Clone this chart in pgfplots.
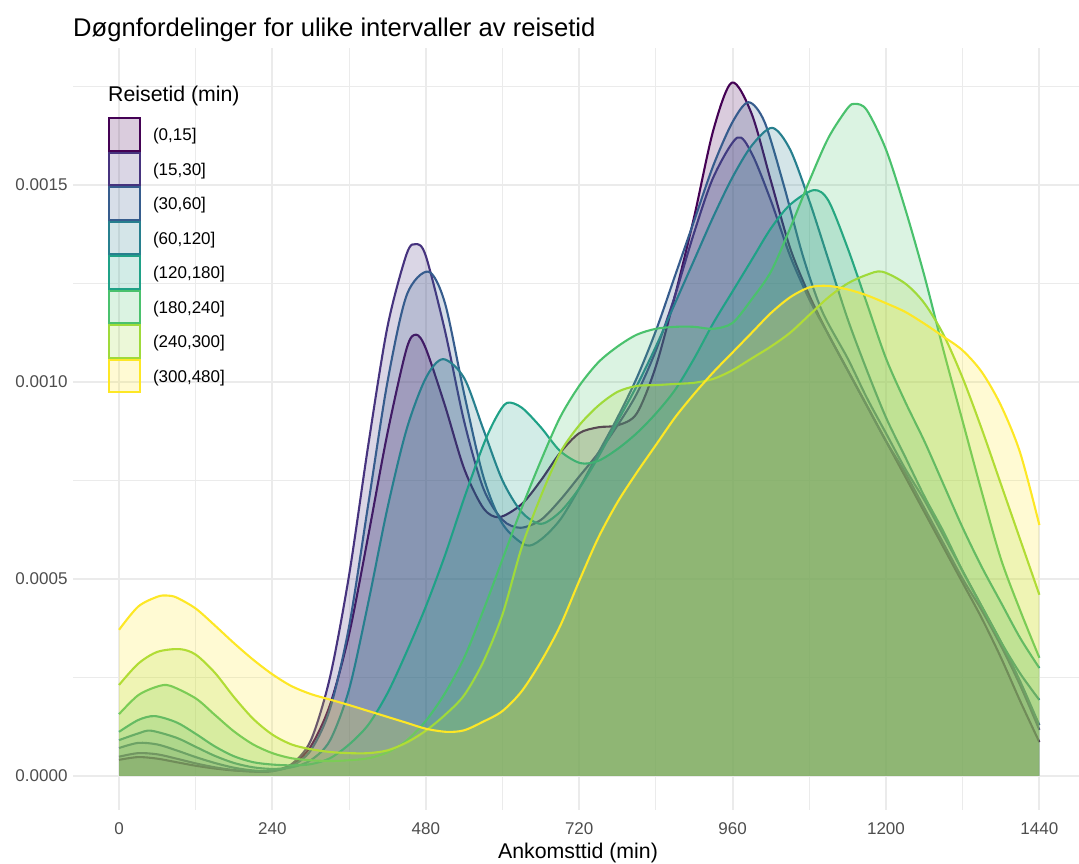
\documentclass[border=0pt]{standalone}
\usepackage{fontspec}
\setmainfont{Liberation Sans}
\usepackage{pgfplots}
\usepackage{pgfplotstable}
\pgfplotsset{compat=1.18}

% viridis, 8 steps
\definecolor{v1}{HTML}{440154}
\definecolor{v2}{HTML}{46337E}
\definecolor{v3}{HTML}{365C8D}
\definecolor{v4}{HTML}{277F8E}
\definecolor{v5}{HTML}{1FA187}
\definecolor{v6}{HTML}{4AC16D}
\definecolor{v7}{HTML}{9FDA3A}
\definecolor{v8}{HTML}{FDE725}
\definecolor{gridgray}{HTML}{EBEBEB}
\definecolor{tickgray}{HTML}{4D4D4D}

% kernel density of arrival time (minutes after midnight), one table per travel-time group
\pgfplotstableread{
t d
0 0.000041
30 0.000048
60 0.000044
90 0.000035
120 0.000026
150 0.000019
180 0.000014
210 0.000012
240 0.000014
270 0.000028
300 0.000075
330 0.000180
360 0.000360
390 0.000610
420 0.000870
450 0.001085
465 0.001120
480 0.001085
510 0.000940
540 0.000780
570 0.000680
595 0.000657
630 0.000690
660 0.000750
690 0.000820
720 0.000870
750 0.000885
780 0.000890
810 0.000920
840 0.001040
870 0.001220
900 0.001420
930 0.001640
959 0.001760
990 0.001680
1020 0.001510
1050 0.001340
1080 0.001220
1110 0.001120
1140 0.001030
1170 0.000940
1200 0.000850
1230 0.000760
1260 0.000670
1290 0.000580
1320 0.000490
1350 0.000400
1380 0.000300
1410 0.000190
1440 0.000086
}\dA

\pgfplotstableread{
t d
0 0.000049
30 0.000058
60 0.000055
90 0.000044
120 0.000032
150 0.000022
180 0.000015
210 0.000011
240 0.000012
270 0.000030
300 0.000090
330 0.000250
360 0.000510
390 0.000840
420 0.001140
450 0.001325
465 0.001350
480 0.001320
510 0.001130
540 0.000900
570 0.000730
600 0.000650
628 0.000630
660 0.000650
690 0.000700
720 0.000760
750 0.000820
780 0.000890
810 0.000970
840 0.001080
870 0.001220
900 0.001380
930 0.001520
967 0.001620
990 0.001580
1020 0.001460
1050 0.001320
1080 0.001210
1110 0.001120
1140 0.001030
1170 0.000940
1200 0.000850
1230 0.000770
1260 0.000680
1290 0.000590
1320 0.000500
1350 0.000420
1380 0.000330
1410 0.000230
1440 0.000117
}\dB

\pgfplotstableread{
t d
0 0.000071
30 0.000084
60 0.000080
90 0.000065
120 0.000048
150 0.000033
180 0.000021
210 0.000014
240 0.000013
270 0.000025
300 0.000065
330 0.000170
360 0.000380
390 0.000690
420 0.001000
450 0.001220
484 0.001280
510 0.001200
540 0.000970
570 0.000760
600 0.000640
636 0.000586
660 0.000600
690 0.000650
720 0.000730
750 0.000820
780 0.000910
810 0.001010
840 0.001130
870 0.001270
900 0.001410
930 0.001550
960 0.001660
985 0.001710
1010 0.001660
1040 0.001500
1070 0.001320
1100 0.001180
1140 0.001060
1170 0.000960
1200 0.000870
1230 0.000780
1260 0.000700
1290 0.000610
1320 0.000520
1350 0.000430
1380 0.000340
1410 0.000240
1440 0.000129
}\dC

\pgfplotstableread{
t d
0 0.000091
30 0.000108
50 0.000115
90 0.000097
120 0.000074
150 0.000051
180 0.000033
210 0.000022
240 0.000018
270 0.000022
300 0.000040
330 0.000090
360 0.000220
390 0.000440
420 0.000680
450 0.000880
480 0.001010
507 0.001058
540 0.001010
570 0.000880
600 0.000750
630 0.000670
660 0.000640
690 0.000670
720 0.000730
750 0.000810
780 0.000900
810 0.000990
840 0.001090
870 0.001200
900 0.001310
930 0.001420
960 0.001520
990 0.001600
1022 0.001645
1050 0.001590
1080 0.001460
1110 0.001310
1140 0.001160
1170 0.001030
1200 0.000910
1230 0.000810
1260 0.000710
1290 0.000620
1320 0.000520
1350 0.000430
1380 0.000340
1410 0.000260
1440 0.000193
}\dD

\pgfplotstableread{
t d
0 0.000112
30 0.000142
56 0.000152
90 0.000136
120 0.000107
150 0.000075
180 0.000050
210 0.000035
240 0.000029
270 0.000027
300 0.000030
330 0.000045
360 0.000080
390 0.000130
420 0.000210
450 0.000315
480 0.000430
510 0.000560
540 0.000705
570 0.000840
590 0.000910
607 0.000947
630 0.000935
660 0.000885
690 0.000825
722 0.000794
750 0.000800
780 0.000830
810 0.000870
840 0.000920
870 0.000980
900 0.001060
930 0.001150
960 0.001230
990 0.001310
1020 0.001390
1050 0.001450
1087 0.001487
1110 0.001460
1140 0.001340
1170 0.001200
1200 0.001060
1230 0.000950
1260 0.000850
1290 0.000740
1320 0.000630
1350 0.000530
1380 0.000440
1410 0.000350
1440 0.000274
}\dE

\pgfplotstableread{
t d
0 0.000157
30 0.000205
60 0.000227
80 0.000229
120 0.000197
150 0.000155
180 0.000113
210 0.000080
240 0.000058
270 0.000045
300 0.000040
330 0.000038
360 0.000040
390 0.000045
420 0.000060
450 0.000090
480 0.000140
510 0.000210
540 0.000300
570 0.000420
600 0.000550
630 0.000680
660 0.000800
690 0.000910
720 0.000990
750 0.001050
780 0.001090
810 0.001120
840 0.001135
870 0.001140
900 0.001140
930 0.001135
960 0.001150
990 0.001210
1020 0.001280
1050 0.001390
1080 0.001510
1110 0.001620
1140 0.001695
1152 0.001706
1170 0.001690
1200 0.001590
1230 0.001440
1260 0.001270
1290 0.001080
1320 0.000900
1350 0.000720
1380 0.000550
1410 0.000420
1440 0.000300
}\dF

\pgfplotstableread{
t d
0 0.000231
30 0.000285
60 0.000315
95 0.000322
120 0.000308
150 0.000262
180 0.000200
210 0.000145
240 0.000105
270 0.000080
300 0.000068
330 0.000061
360 0.000058
390 0.000058
420 0.000065
450 0.000085
480 0.000115
510 0.000155
540 0.000205
570 0.000290
600 0.000410
630 0.000580
660 0.000710
690 0.000820
720 0.000890
750 0.000940
780 0.000975
810 0.000990
840 0.000992
870 0.000995
900 0.000998
930 0.001008
960 0.001030
990 0.001060
1020 0.001090
1050 0.001125
1080 0.001170
1110 0.001215
1140 0.001250
1170 0.001272
1194 0.001280
1230 0.001250
1260 0.001200
1290 0.001120
1320 0.001010
1350 0.000880
1380 0.000740
1410 0.000600
1440 0.000460
}\dG

\pgfplotstableread{
t d
0 0.000371
30 0.000430
60 0.000455
75 0.000458
90 0.000453
120 0.000425
150 0.000382
180 0.000337
210 0.000295
240 0.000258
270 0.000228
300 0.000208
330 0.000194
360 0.000180
390 0.000165
420 0.000150
450 0.000135
480 0.000120
513 0.000112
540 0.000116
570 0.000138
600 0.000165
630 0.000215
660 0.000290
690 0.000380
720 0.000495
750 0.000605
780 0.000695
810 0.000770
840 0.000840
870 0.000910
900 0.000970
930 0.001025
960 0.001075
990 0.001125
1020 0.001175
1050 0.001215
1080 0.001240
1108 0.001244
1140 0.001235
1170 0.001220
1200 0.001200
1230 0.001178
1260 0.001148
1290 0.001115
1320 0.001080
1350 0.001025
1380 0.000940
1410 0.000820
1440 0.000637
}\dH

\pgfplotsset{
  dens fill/.style={draw=none, fill=#1, fill opacity=0.2, smooth, forget plot},
  dens line/.style={draw=#1, line width=2.1pt, smooth, line join=round, forget plot},
  legend key/.style={draw=#1, fill=#1, fill opacity=0.2, line width=2pt},
}

\begin{document}
\begin{tikzpicture}[x=1pt,y=1pt]
\useasboundingbox (0,0) rectangle (1079,864);
\begin{axis}[
  at={(73pt,54pt)}, anchor=south west,
  scale only axis, width=1006pt, height=762pt,
  xmin=-72, xmax=1502,
  ymin=-0.0000863, ymax=0.0018477,
  axis line style={draw=none},
  tick style={draw=none},
  xtick={0,240,480,720,960,1200,1440},
  xticklabels={0,240,480,720,960,1200,1440},
  minor xtick={120,360,600,840,1080,1320},
  ytick={0,0.0005,0.001,0.0015},
  yticklabels={0.0000,0.0005,0.0010,0.0015},
  minor ytick={0.00025,0.00075,0.00125,0.00175},
  scaled y ticks=false,
  grid=both,
  major grid style={draw=gridgray, line width=1.9pt},
  minor grid style={draw=gridgray, line width=1pt},
  ticklabel style={font=\fontsize{17}{20}\selectfont, text=tickgray},
  xticklabel style={yshift=-9pt},
  yticklabel style={xshift=-2pt},
  legend style={
    at={(0.0348,0.9094)}, anchor=north west,
    draw=none, fill=none, inner sep=0pt, outer sep=0pt,
    row sep=0pt, column sep=10pt,
    font=\fontsize{17}{20}\selectfont, text=black,
  },
  legend cell align=left,
  legend image code/.code={\draw[#1] (0pt,-15.25pt) rectangle (31pt,17.25pt);},
]
\addplot[dens fill=v1] table[x=t,y=d]{\dA} \closedcycle;
\addplot[dens line=v1] table[x=t,y=d]{\dA};
\addplot[dens fill=v2] table[x=t,y=d]{\dB} \closedcycle;
\addplot[dens line=v2] table[x=t,y=d]{\dB};
\addplot[dens fill=v3] table[x=t,y=d]{\dC} \closedcycle;
\addplot[dens line=v3] table[x=t,y=d]{\dC};
\addplot[dens fill=v4] table[x=t,y=d]{\dD} \closedcycle;
\addplot[dens line=v4] table[x=t,y=d]{\dD};
\addplot[dens fill=v5] table[x=t,y=d]{\dE} \closedcycle;
\addplot[dens line=v5] table[x=t,y=d]{\dE};
\addplot[dens fill=v6] table[x=t,y=d]{\dF} \closedcycle;
\addplot[dens line=v6] table[x=t,y=d]{\dF};
\addplot[dens fill=v7] table[x=t,y=d]{\dG} \closedcycle;
\addplot[dens line=v7] table[x=t,y=d]{\dG};
\addplot[dens fill=v8] table[x=t,y=d]{\dH} \closedcycle;
\addplot[dens line=v8] table[x=t,y=d]{\dH};

\addlegendimage{legend key=v1}\addlegendentry{(0,15]}
\addlegendimage{legend key=v2}\addlegendentry{(15,30]}
\addlegendimage{legend key=v3}\addlegendentry{(30,60]}
\addlegendimage{legend key=v4}\addlegendentry{(60,120]}
\addlegendimage{legend key=v5}\addlegendentry{(120,180]}
\addlegendimage{legend key=v6}\addlegendentry{(180,240]}
\addlegendimage{legend key=v7}\addlegendentry{(240,300]}
\addlegendimage{legend key=v8}\addlegendentry{(300,480]}
\end{axis}
\node[anchor=base west, inner sep=0pt, font=\fontsize{25.6}{30}\selectfont] at (73,827)
  {Døgnfordelinger for ulike intervaller av reisetid};
\node[anchor=base, inner sep=0pt, font=\fontsize{21.3}{25}\selectfont] at (578,5)
  {Ankomsttid (min)};
\node[anchor=base west, inner sep=0pt, font=\fontsize{21.3}{25}\selectfont] at (108,762)
  {Reisetid (min)};
\end{tikzpicture}
\end{document}
